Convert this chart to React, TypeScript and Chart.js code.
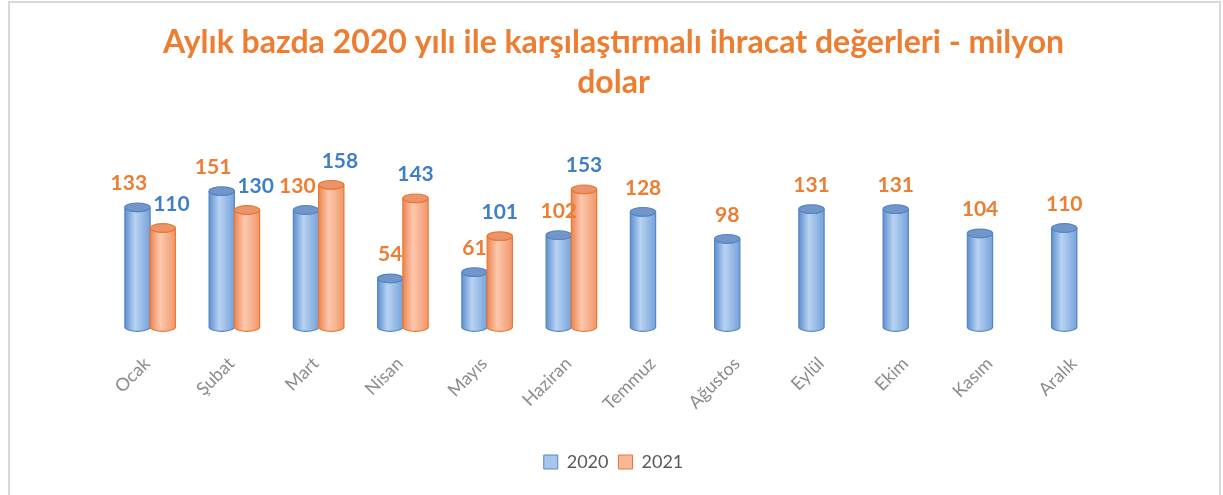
import React, { useEffect, useRef } from "react";
import { Chart, registerables } from "chart.js";

Chart.register(...registerables);

const months = ["Ocak", "Şubat", "Mart", "Nisan", "Mayıs", "Haziran", "Temmuz", "Ağustos", "Eylül", "Ekim", "Kasım", "Aralık"];
const values2020 = [133, 151, 130, 54, 61, 102, 128, 98, 131, 131, 104, 110];
const values2021 = [110, 130, 158, 143, 101, 153, null, null, null, null, null, null];
const seriesNames = ["2020", "2021"];
const titleLines = ["Aylık bazda 2020 yılı ile karşılaştırmalı ihracat değerleri - milyon", "dolar"];

const FONT = "Lato, 'Open Sans', sans-serif";

const palettes = [
  { left: "#5f8fcf", mid: "#b8d3f2", right: "#76a2da", edge: "#5586c6", top: "#7396c9", legendFill: "#a7c6ec", label: "#ed7d31" },
  { left: "#ec8552", mid: "#fdc8ad", right: "#f0976b", edge: "#ea7832", top: "#e9946a", legendFill: "#f8b898", label: "#3f7fc6" },
];

const cylinderPlugin = {
  id: "cylinders",
  afterDatasetsDraw(chart: any) {
    const ctx = chart.ctx;
    chart.data.datasets.forEach((ds: any, di: number) => {
      const meta = chart.getDatasetMeta(di);
      const pal = palettes[di];
      meta.data.forEach((bar: any, i: number) => {
        const v = ds.data[i];
        if (v === null || v === undefined) return;
        const { x, y, base, width } = bar.getProps(["x", "y", "base", "width"], true);
        const rx = width / 2;
        const ry = Math.max(3, width * 0.17);
        ctx.save();
        const g = ctx.createLinearGradient(x - rx, 0, x + rx, 0);
        g.addColorStop(0, pal.left);
        g.addColorStop(0.4, pal.mid);
        g.addColorStop(1, pal.right);
        ctx.beginPath();
        ctx.moveTo(x - rx, y);
        ctx.lineTo(x - rx, base);
        ctx.ellipse(x, base, rx, ry, 0, Math.PI, 0, true);
        ctx.lineTo(x + rx, y);
        ctx.ellipse(x, y, rx, ry, 0, 0, Math.PI, false);
        ctx.closePath();
        ctx.fillStyle = g;
        ctx.fill();
        ctx.lineWidth = 1.2;
        ctx.strokeStyle = pal.edge;
        ctx.stroke();
        ctx.beginPath();
        ctx.ellipse(x, y, rx, ry, 0, 0, Math.PI * 2);
        ctx.fillStyle = pal.top;
        ctx.fill();
        ctx.stroke();
        ctx.restore();
      });
    });

    // data labels
    const fontSize = 21;
    ctx.save();
    ctx.font = `bold ${fontSize}px ${FONT}`;
    ctx.textAlign = "center";
    ctx.textBaseline = "alphabetic";
    const n = chart.data.labels.length;
    for (let i = 0; i < n; i++) {
      const items: any[] = [];
      chart.data.datasets.forEach((ds: any, di: number) => {
        const v = ds.data[i];
        if (v === null || v === undefined) return;
        const bar = chart.getDatasetMeta(di).data[i];
        const { x, y } = bar.getProps(["x", "y"], true);
        const text = String(v);
        items.push({ x, y: y - 17, text, w: ctx.measureText(text).width, color: palettes[di].label });
      });
      if (items.length === 2) {
        const [a, b] = items;
        if (Math.abs(a.y - b.y) < 32) {
          const overlap = a.x + a.w / 2 - (b.x - b.w / 2) + 6;
          if (overlap > 0) {
            a.x -= overlap / 2;
            b.x += overlap / 2;
          }
        }
      }
      items.forEach((it) => {
        ctx.fillStyle = it.color;
        ctx.fillText(it.text, it.x, it.y);
      });
    }
    ctx.restore();
  },
};

export default function App() {
  const ref = useRef<HTMLCanvasElement>(null);
  useEffect(() => {
    if (!ref.current) return;
    const chart = new Chart(ref.current, {
      type: "bar",
      data: {
        labels: months,
        datasets: [
          { label: seriesNames[0], data: values2020, backgroundColor: "rgba(0,0,0,0)", borderWidth: 0 },
          { label: seriesNames[1], data: values2021, backgroundColor: "rgba(0,0,0,0)", borderWidth: 0 },
        ],
      },
      options: {
        responsive: false,
        animation: false,
        events: [],
        categoryPercentage: 0.6,
        barPercentage: 1.0,
        layout: { padding: { left: 98, right: 100, top: 0, bottom: 16 } },
        scales: {
          x: {
            grid: { display: false },
            border: { display: false },
            afterFit: (axis: any) => {
              axis.height = 116;
            },
            ticks: {
              maxRotation: 45,
              minRotation: 45,
              color: "#8c8c8c",
              font: { family: FONT, size: 18 },
              padding: 18,
              labelOffset: -3,
            },
          },
          y: {
            display: false,
            min: 0,
            max: 200,
          },
        },
        plugins: {
          title: {
            display: true,
            text: titleLines,
            color: "#ed7d31",
            font: { family: FONT, size: 32, weight: "bold", lineHeight: 1.25 },
            padding: { top: 20, bottom: 44 },
          },
          legend: {
            position: "bottom",
            labels: {
              boxWidth: 14,
              boxHeight: 14,
              color: "#595959",
              font: { family: FONT, size: 18 },
              padding: 10,
              generateLabels: (c: any) =>
                c.data.datasets.map((ds: any, i: number) => ({
                  text: ds.label,
                  fillStyle: palettes[i].legendFill,
                  strokeStyle: palettes[i].edge,
                  lineWidth: 1,
                  hidden: false,
                  datasetIndex: i,
                  fontColor: "#595959",
                })),
            },
          },
          tooltip: { enabled: false },
        },
      },
      plugins: [cylinderPlugin],
    });
    return () => chart.destroy();
  }, []);
  return (
    <div
      style={{
        position: "absolute",
        left: 8,
        top: 1,
        width: 1209,
        height: 500,
        border: "2px solid #d9d9d9",
        background: "#fff",
      }}
    >
      <canvas ref={ref} width={1209} height={494} style={{ display: "block" }} />
    </div>
  );
}
